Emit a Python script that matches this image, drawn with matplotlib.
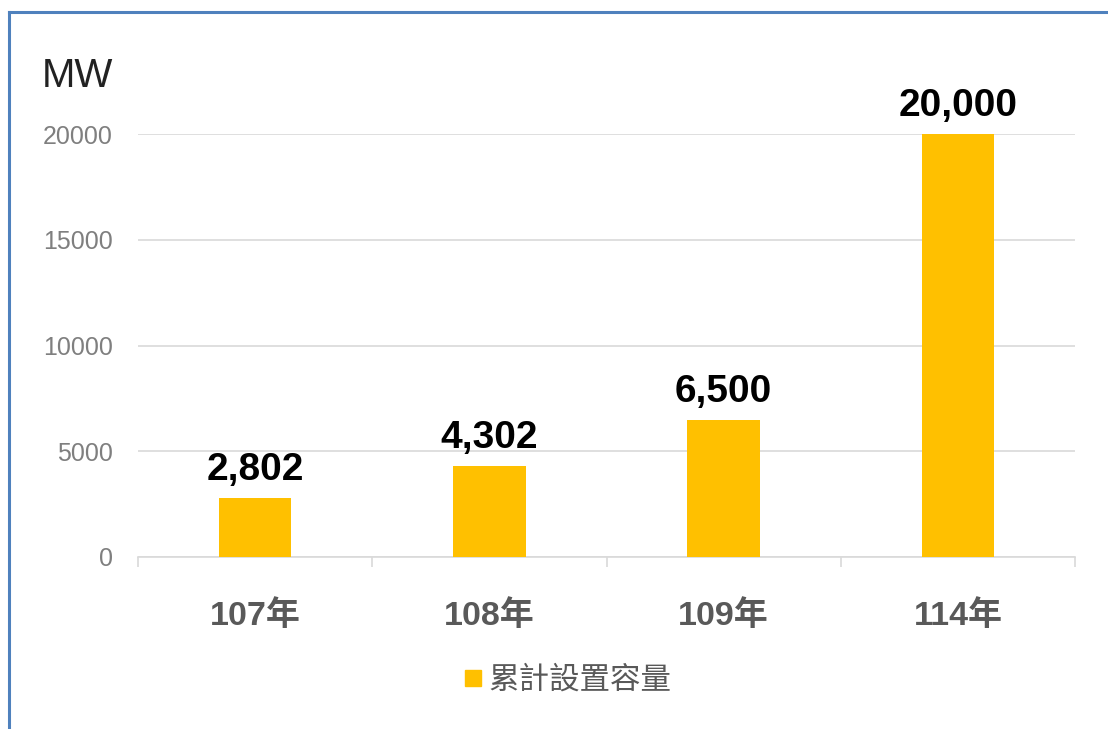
import matplotlib
matplotlib.use("Agg")
import matplotlib.pyplot as plt
from matplotlib.lines import Line2D
from matplotlib.ticker import FixedLocator

# cumulative installed capacity (MW)
years = ["107年", "108年", "109年", "114年"]
capacity = [2802, 4302, 6500, 20000]
series_name = "累計設置容量"
y_ticks = [0, 5000, 10000, 15000, 20000]

FONT = ["Liberation Sans", "Noto Sans CJK TC", "DejaVu Sans"]
BAR = "#FFC000"
GRID = "#D9D9D9"
GREY = "#595959"
LIGHT_GREY = "#7F7F7F"

plt.rcParams["font.family"] = FONT

fig = plt.figure(figsize=(11.08, 7.29), dpi=100)
ax = fig.add_axes([138 / 1108, 1 - 557 / 729, 937 / 1108, 423 / 729])

x = list(range(len(years)))
ax.bar(x, capacity, width=0.31, color=BAR, zorder=3)

for xi, v in zip(x, capacity):
    ax.annotate(f"{v:,}", (xi, v), xytext=(0, 7), textcoords="offset points",
                ha="center", va="bottom", fontsize=28, fontweight="bold",
                color="black", annotation_clip=False)

ax.set_xlim(-0.5, len(years) - 0.5)
ax.set_ylim(0, 20000)
ax.set_yticks(y_ticks)
ax.set_yticklabels([str(t) for t in y_ticks], fontsize=18, color=LIGHT_GREY)
ax.yaxis.grid(True, color=GRID, linewidth=1.2, zorder=0)
ax.tick_params(axis="y", length=0, pad=18)

ax.set_xticks(x)
ax.set_xticklabels(years, fontsize=24.5, fontweight="bold", color=GREY)
ax.tick_params(axis="x", which="major", length=0, pad=31)
ax.xaxis.set_minor_locator(FixedLocator([i - 0.5 for i in range(len(years) + 1)]))
ax.tick_params(axis="x", which="minor", length=7, color=GRID, width=1.2)

for side in ["top", "right", "left"]:
    ax.spines[side].set_visible(False)
ax.spines["bottom"].set_color(GRID)
ax.spines["bottom"].set_linewidth(1.2)

fig.text(42 / 1108, 1 - 76 / 729, "MW", fontsize=29, color="#222222",
         ha="left", va="center")

handle = Line2D([], [], marker="s", linestyle="none", markersize=12,
                markerfacecolor=BAR, markeredgecolor=BAR)
fig.legend([handle], [series_name], loc="center", bbox_to_anchor=(566 / 1108, 1 - 681 / 729),
           frameon=False, handletextpad=0.1, handlelength=0.8,
           prop={"family": FONT, "size": 22}, labelcolor=GREY)

# blue frame on the left and top edges
fig.add_artist(Line2D([9 / 1108, 9 / 1108], [0, 1 - 12 / 729], color="#4F81BD",
                      linewidth=2.2, transform=fig.transFigure))
fig.add_artist(Line2D([9 / 1108, 1], [1 - 12 / 729, 1 - 12 / 729], color="#4F81BD",
                      linewidth=2.2, transform=fig.transFigure))

fig.savefig("out.png", dpi=100, facecolor="white")
